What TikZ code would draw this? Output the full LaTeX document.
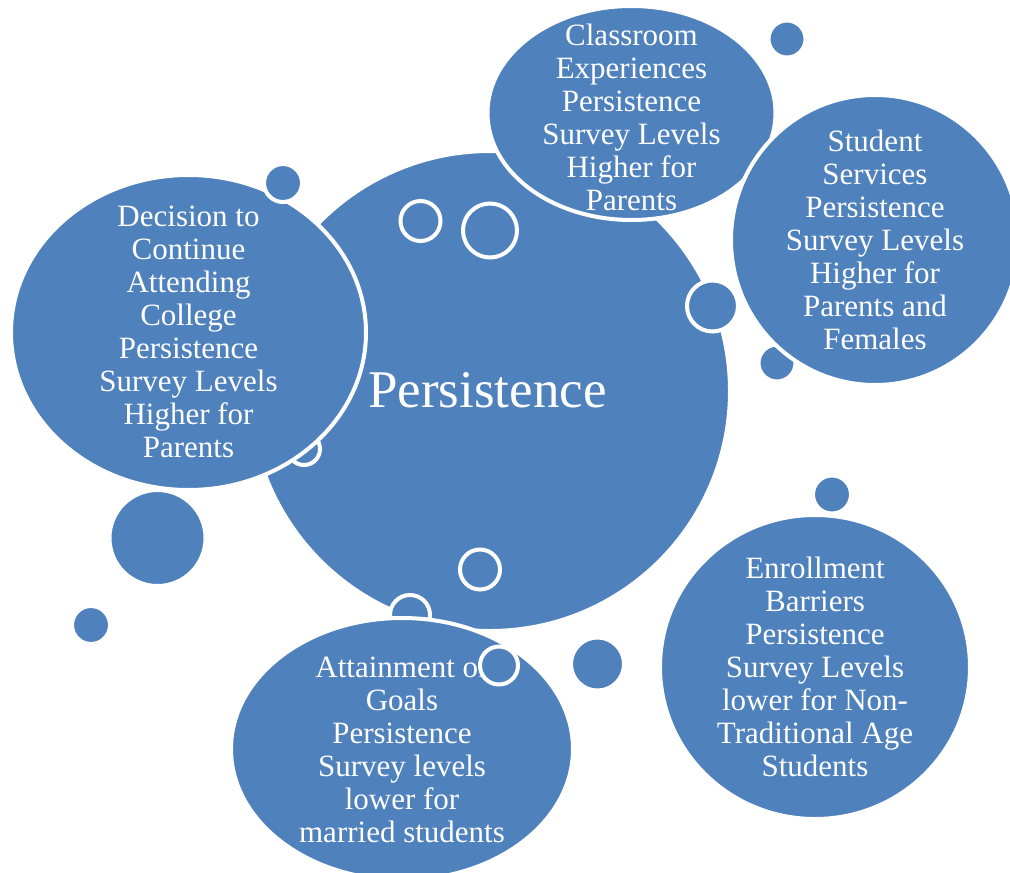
\documentclass[tikz,border=0pt]{standalone}
\usepackage{fontspec}
\setmainfont{Liberation Serif}
\definecolor{bubbleColor}{HTML}{4F81BD}
\tikzstyle{bubbleStyle} = [fill=bubbleColor, draw=white, line width=4pt]
\tikzstyle{bubbleText} = [text=white, align=center, font=\fontsize{31}{33}\selectfont]
\tikzstyle{mainText} = [text=white, font=\fontsize{53}{60}\selectfont]
\newcommand{\smallBubble}[3]{\filldraw [bubbleStyle] (#1,#2) circle (#3pt);}
\newcommand{\textBubble}[7]{
  \filldraw [bubbleStyle] (#2,#3) ellipse (#4pt and #5pt);
  \node [bubbleText] (#1) at (#2,#6) {#7};
}

\begin{document}
\begin{tikzpicture}[x=1pt, y=-1pt]
  \clip (0,0) rectangle (1010,873);
  % centre bubble
  \filldraw [bubbleStyle] (490,391) circle (240pt);
  \node [mainText] (persistence) at (487.5,390) {Persistence};
  % rings on the centre bubble, some end up under the outer bubbles
  \smallBubble{420.5}{221}{20}
  \smallBubble{490}{230.5}{27}
  \smallBubble{712.5}{306}{25.5}
  \smallBubble{777}{363}{18.5}
  \smallBubble{304}{449}{16}
  \smallBubble{480}{569.5}{20}
  \smallBubble{410}{615}{20}
  % loose dots
  \smallBubble{787}{39}{18.5}
  \smallBubble{157.5}{538}{48}
  \smallBubble{91}{625}{19}
  \smallBubble{832}{494.5}{19}
  \smallBubble{597.5}{664}{26.5}
  % outer bubbles: name, x, y, rx, ry, text y, text
  \textBubble{classroom}{631.5}{113}{144}{107}{117}{Classroom\\Experiences\\Persistence\\Survey Levels\\Higher for\\Parents}
  \textBubble{services}{875}{240}{144}{145}{240}{Student\\Services\\Persistence\\Survey Levels\\Higher for\\Parents and\\Females}
  \textBubble{decision}{188.5}{332.5}{177.5}{157.5}{332}{Decision to\\Continue\\Attending\\College\\Persistence\\Survey Levels\\Higher for\\Parents}
  \textBubble{attainment}{402}{749}{171}{131}{749}{Attainment of\\Goals\\Persistence\\Survey levels\\lower for\\married students}
  \textBubble{enrollment}{815}{667}{155}{152}{667}{Enrollment\\Barriers\\Persistence\\Survey Levels\\lower for Non-\\Traditional Age\\Students}
  % dots sitting over the outer bubbles
  \smallBubble{283}{183}{19}
  \smallBubble{499}{665.5}{19}
\end{tikzpicture}
\end{document}
